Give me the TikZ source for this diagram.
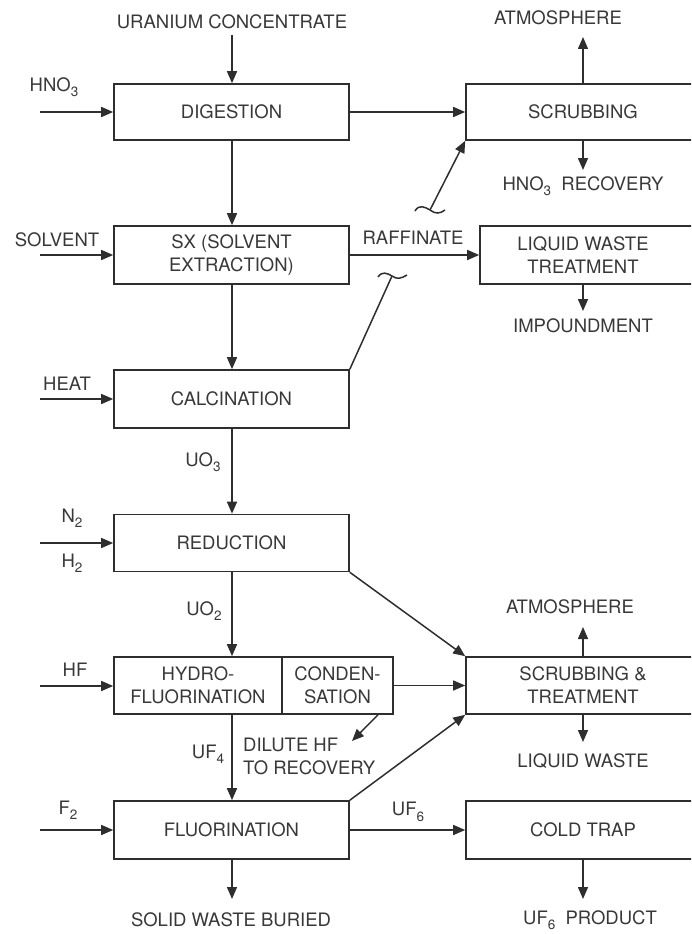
\documentclass[tikz,border=0pt]{standalone}
\usepackage{fontspec}
\setmainfont{TeX Gyre Heros}
\usetikzlibrary{arrows.meta}
\newcommand{\sbs}[1]{\raisebox{-0.55ex}{\fontsize{13.5}{13.5}\selectfont #1}}
\definecolor{ink}{HTML}{2E2E2E}
\definecolor{txt}{HTML}{383838}
\tikzset{
  box/.style={draw=ink, line width=1.6pt, rectangle, inner sep=0pt, text=txt, align=center},
  lbl/.style={text=txt, inner sep=0pt, align=center},
  flow/.style={draw=ink, line width=1.5pt, -{Triangle[length=12pt,width=10pt]}},
  plain/.style={draw=ink, line width=1.5pt},
}
\begin{document}
\begin{tikzpicture}[x=1pt,y=-1pt, font=\fontsize{18.5}{23}\selectfont]
\useasboundingbox (0,0) rectangle (691,934);
\clip (0,0) rectangle (691,934);
% boxes
\node[box, minimum width=235pt, minimum height=56pt] (dig) at (231.5,112) {DIGESTION};
\node[box, minimum width=234pt, minimum height=56pt] (scr) at (583,112) {SCRUBBING};
\node[box, minimum width=235pt, minimum height=58pt] (sx) at (231.5,255) {SX (SOLVENT\\EXTRACTION)};
\node[box, minimum width=220pt, minimum height=58pt] (lwt) at (590,255) {};
\node[lbl] (lwtT) at (583,255) {LIQUID WASTE\\TREATMENT};
\node[box, minimum width=235pt, minimum height=58pt] (cal) at (231.5,399) {CALCINATION};
\node[box, minimum width=235pt, minimum height=57pt] (red) at (231.5,543) {REDUCTION};
\node[box, minimum width=168pt, minimum height=57pt] (hf) at (198,685.5) {HYDRO-\\FLUORINATION};
\node[box, minimum width=111pt, minimum height=57pt] (cond) at (337.5,685.5) {CONDEN-\\SATION};
\node[box, minimum width=234pt, minimum height=57pt] (sat) at (583,685.5) {SCRUBBING \&\\TREATMENT};
\node[box, minimum width=235pt, minimum height=58pt] (flu) at (231.5,830) {FLUORINATION};
\node[box, minimum width=234pt, minimum height=58pt] (cold) at (583,830) {COLD TRAP};

% labels
\node[lbl] (uc) at (232,22) {URANIUM CONCENTRATE};
\node[lbl] (atm1) at (558,18) {ATMOSPHERE};
\node[lbl] (hno3) at (54,87) {HNO\sbs{3}};
\node[lbl] (hnorec) at (583,186) {HNO\sbs{3}\ \ RECOVERY};
\node[lbl] (solv) at (57,240) {SOLVENT};
\node[lbl] (raff) at (413,238) {RAFFINATE};
\node[lbl] (imp) at (583,326) {IMPOUNDMENT};
\node[lbl] (heat) at (67,384) {HEAT};
\node[lbl] (uo3) at (203,462) {UO\sbs{3}};
\node[lbl] (n2) at (72,518) {N\sbs{2}};
\node[lbl] (h2) at (72,563) {H\sbs{2}};
\node[lbl] (uo2) at (204,611) {UO\sbs{2}};
\node[lbl] (atm2) at (570,607) {ATMOSPHERE};
\node[lbl] (hfl) at (75,670) {HF};
\node[lbl] (liqw) at (583,761) {LIQUID WASTE};
\node[lbl, anchor=west, align=left] (dil) at (243,756) {DILUTE HF\\TO RECOVERY};
\node[lbl] (uf4) at (208,754) {UF\sbs{4}};
\node[lbl] (f2) at (68,810) {F\sbs{2}};
\node[lbl] (uf6) at (408,812) {UF\sbs{6}};
\node[lbl] (swb) at (231,920) {SOLID WASTE BURIED};
\node[lbl] (uf6p) at (590,920) {UF\sbs{6}\ \ PRODUCT};

% coordinates
\coordinate (inHNO) at (40,112);
\coordinate (inSOL) at (40,255);
\coordinate (inHEAT) at (40,399);
\coordinate (inN) at (40,543);
\coordinate (inHF) at (40,686);
\coordinate (inF) at (40,830);
\coordinate (ucEnd) at (232,35);
\coordinate (atm1End) at (583,37);
\coordinate (recEnd) at (583,170);
\coordinate (impEnd) at (583,311);
\coordinate (atm2End) at (583,627);
\coordinate (liqEnd) at (583,742);
\coordinate (dilEnd) at (352,741);
\coordinate (swbEnd) at (232,899);
\coordinate (prodEnd) at (583,899);
\coordinate (c1) at (430,210);
\coordinate (c2) at (392,276);

% main column
\draw[flow] (ucEnd) -- (dig.north -| ucEnd);
\draw[flow] (dig.south -| ucEnd) -- (sx.north -| ucEnd);
\draw[flow] (sx.south -| ucEnd) -- (cal.north -| ucEnd);
\draw[flow] (cal.south -| ucEnd) -- (red.north -| ucEnd);
\draw[flow] (red.south -| ucEnd) -- (hf.north -| ucEnd);
\draw[flow] (hf.south -| ucEnd) -- (flu.north -| ucEnd);
\draw[flow] (flu.south -| ucEnd) -- (swbEnd);

% inputs
\draw[flow] (inHNO) -- (inHNO -| dig.west);
\draw[flow] (inSOL) -- (inSOL -| sx.west);
\draw[flow] (inHEAT) -- (inHEAT -| cal.west);
\draw[flow] (inN) -- (inN -| red.west);
\draw[flow] (inHF) -- (inHF -| hf.west);
\draw[flow] (inF) -- (inF -| flu.west);

% right side
\draw[flow] (dig.east) -- (dig.east -| scr.west);
\draw[flow] (scr.north -| atm1End) -- (atm1End);
\draw[flow] (scr.south -| recEnd) -- (recEnd);
\draw[flow] (sx.east) -- (sx.east -| lwt.west);
\draw[flow] (lwt.south -| impEnd) -- (impEnd);
\draw[flow] (red.south east) -- (sat.north west);
\draw[flow] (cond.east) -- (cond.east -| sat.west);
\draw[flow] (flu.north east) -- (sat.south west);
\draw[flow] (sat.north -| atm2End) -- (atm2End);
\draw[flow] (sat.south -| liqEnd) -- (liqEnd);
\draw[flow] (cond.south -| 378,0) -- (dilEnd);
\draw[flow] (flu.east) -- (flu.east -| cold.west);
\draw[flow] (cold.south -| prodEnd) -- (prodEnd);

% broken lines with curls
\draw[flow] (c1) -- (scr.south west);
\draw[plain] (c1) ++(-15,1) .. controls +(4,-7) and +(-5,-3) .. (c1) .. controls +(5,4) and +(-5,4) .. ++(15,0);
\draw[plain] (cal.north east) -- (c2);
\draw[plain] (c2) ++(-14,1) .. controls +(4,-6) and +(-5,-3) .. (c2) .. controls +(5,4) and +(-5,3) .. ++(15,-1);
\end{tikzpicture}
\end{document}
